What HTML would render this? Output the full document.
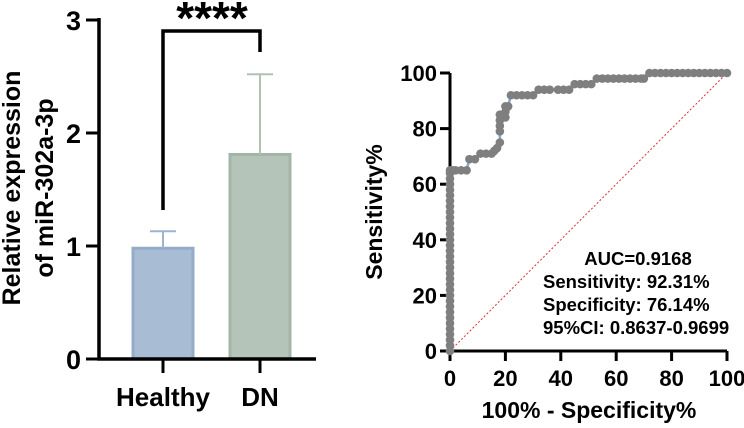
<!DOCTYPE html>
<html><head><meta charset="utf-8"><style>
html,body{margin:0;padding:0;background:#fff;}
svg text{font-family:"Liberation Sans",sans-serif;font-weight:bold;fill:#000;}
</style></head><body>
<svg width="744" height="423" viewBox="0 0 744 423" xmlns="http://www.w3.org/2000/svg">
<g id="bar"></g>
<g id="roc"></g>
</svg>
<script>
const groups=["Healthy","DN"];
const means=[0.98,1.81];
const errs=[0.15,0.71];
const yTicks=[0,1,2,3];
const rocX=[0,0,0,0,0,0,0,0,0,0,0,0,0,0,0,0,0,0,0,0,0,0,0,0,0,0,0,0,0,0,0,0,0,0,1,2,4,6,7,9,11,13,15,16,17,18,18,18,18,18,19,20,20,20,21,22,24,26,28,30,32,34,36,39,41,43,45,47,49,51,53,55,57,59,61,63,65,67,69,70,72,74,76,78,80,82,84,86,88,90,92,94,96,98,100];
const rocY=[0,2,4,6,8,10,12,14,16,18,20,22,24,26,28,30,32,34,36,38,40,42,44,46,48,50,52,54,56,58,60,62,64,65,65,65,65,65,69,69,71,71,71,72,73,75,79,81,83,85,84,84,86,88,88,92,92,92,92,92,94,94,94,94,94,94,96,96,96,96,98,98,98,98,98,98,98,98,98,98,100,100,100,100,100,100,100,100,100,100,100,100,100,100,100];
const rocTicks=[0,20,40,60,80,100];
const NS="http://www.w3.org/2000/svg";
function mk(p,tag,a,txt){const e=document.createElementNS(NS,tag);for(const k in a)e.setAttribute(k,a[k]);if(txt!==undefined)e.textContent=txt;p.appendChild(e);return e;}
// Bar chart
const bar=document.getElementById('bar');
const by=v=>359-v*113;
const bx=[163,260];
const fills=["#a8bcd4","#b5c4b8"],strokes=["#94acc8","#a3b5a6"],errc=["#9cb4d0","#b0c2b4"];
for(let i=0;i<2;i++){
 const r=mk(bar,'rect',{x:bx[i]-30,y:by(means[i]),width:60,height:359-by(means[i]),fill:fills[i],stroke:strokes[i],'stroke-width':3});
 
 
 const l=mk(bar,'path',{d:`M${bx[i]} ${by(means[i])}V${by(means[i]+errs[i])}M${bx[i]-13} ${by(means[i]+errs[i])}H${bx[i]+13}`,stroke:errc[i],'stroke-width':2,fill:'none'});
 
 
 const t=mk(bar,'text',{x:bx[i],y:406,'font-size':26,'text-anchor':'middle'},groups[i]);
 
 
 mk(bar,'line',{x1:bx[i],x2:bx[i],y1:359,y2:373,stroke:'#000','stroke-width':3});
}
mk(bar,'path',{d:'M99 18V359H316',stroke:'#000','stroke-width':3.5,fill:'none',});
yTicks.forEach(v=>{
 mk(bar,'line',{x1:86,x2:99,y1:by(v),y2:by(v),stroke:'#000','stroke-width':3});
 const t=mk(bar,'text',{x:81,y:by(v)+10,'font-size':27,'text-anchor':'end'},v);
 
 
});
mk(bar,'path',{d:'M163 210V31H260V52',stroke:'#000','stroke-width':3.5,fill:'none',});
mk(bar,'text',{x:212,y:34,'font-size':46,'text-anchor':'middle',},'****');
mk(bar,'text',{transform:'translate(20,188) rotate(-90)','font-size':25,'text-anchor':'middle',},'Relative expression');
mk(bar,'text',{transform:'translate(53,188) rotate(-90)','font-size':25,'text-anchor':'middle',},'of miR-302a-3p');
// ROC
const roc=document.getElementById('roc');
const rx=v=>450+v*2.77, ry=v=>351-v*2.78;
mk(roc,'path',{d:'M450 73V351H727',stroke:'#000','stroke-width':3,fill:'none',});
rocTicks.forEach(v=>{
 mk(roc,'line',{x1:440,x2:450,y1:ry(v),y2:ry(v),stroke:'#000','stroke-width':3});
 mk(roc,'line',{x1:rx(v),x2:rx(v),y1:351,y2:361,stroke:'#000','stroke-width':3});
 const t=mk(roc,'text',{x:437,y:ry(v)+8,'font-size':22,'text-anchor':'end'},v);
 
 
 const u=mk(roc,'text',{x:rx(v),y:386,'font-size':22,'text-anchor':'middle'},v);
 
 
});
mk(roc,'line',{x1:rx(0),y1:ry(0),x2:rx(100),y2:ry(100),stroke:'#e03030','stroke-width':1,'stroke-dasharray':'2,2',});
mk(roc,'polyline',{points:rocX.map((x,i)=>rx(x)+','+ry(rocY[i])).join(' '),fill:'none',stroke:'#7fa8dc','stroke-width':2.5,});
rocX.forEach((x,i)=>{
 const c=mk(roc,'circle',{cx:rx(x),cy:ry(rocY[i]),r:4.3,fill:'#7f7f7f'});
 
 
});
const stats=["AUC=0.9168","Sensitivity: 92.31%","Specificity: 76.14%","95%CI: 0.8637-0.9699"];
stats.forEach((s,i)=>{
 const a=i==0?{x:638,'text-anchor':'middle'}:{x:543,'text-anchor':'start'};
 a.y=265+i*23;a['font-size']=18.5;
 const t=mk(roc,'text',a,s);
 
 
});
mk(roc,'text',{x:589,y:418,'font-size':23,'text-anchor':'middle',},'100% - Specificity%');
mk(roc,'text',{transform:'translate(382,212) rotate(-90)','font-size':23,'text-anchor':'middle',},'Sensitivity%');
</script>
</body></html>
